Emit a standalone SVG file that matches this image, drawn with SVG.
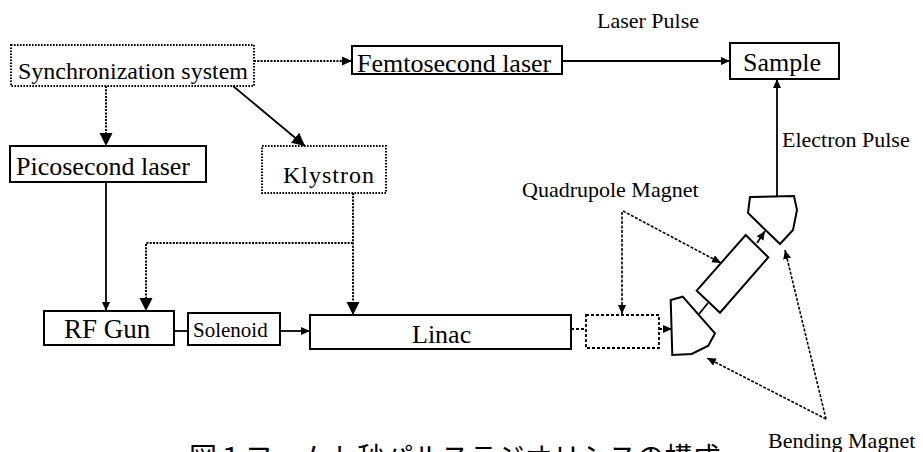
<svg xmlns="http://www.w3.org/2000/svg" width="923" height="452" viewBox="0 0 923 452">
<style>
.box{fill:none;stroke:#000;stroke-width:2}
.dot{fill:none;stroke:#000;stroke-width:2;stroke-dasharray:1.6 1.4}
.dash{fill:none;stroke:#000;stroke-width:1.8;stroke-dasharray:3 2}
.ln{fill:none;stroke:#000;stroke-width:1.8}
.dl{fill:none;stroke:#000;stroke-width:2;stroke-dasharray:2 1.3}
.ds{fill:none;stroke:#000;stroke-width:1.6;stroke-dasharray:3 1.5}
text{font-family:"Liberation Serif","Times New Roman",serif;fill:#000}
.cap{font-family:"Noto Sans CJK JP","Noto Sans",sans-serif;font-size:28px}
</style>
<defs>
<marker id="big" markerUnits="userSpaceOnUse" markerWidth="14" markerHeight="14" refX="13" refY="6.5" orient="auto"><path d="M0,0 L13,6.5 L0,13 z" fill="#000"/></marker>
<marker id="med" markerUnits="userSpaceOnUse" markerWidth="11" markerHeight="10" refX="10" refY="4.5" orient="auto"><path d="M0,0 L10,4.5 L0,9 z" fill="#000"/></marker>
<marker id="sm" markerUnits="userSpaceOnUse" markerWidth="10" markerHeight="9" refX="9" refY="4" orient="auto"><path d="M0,0 L9,4 L0,8 z" fill="#000"/></marker>
</defs>
<rect width="923" height="452" fill="#fff"/>
<g id="connectors">
<path class="dl" d="M254,61 H352" marker-end="url(#med)"/>
<path class="ln" d="M562,61 H730" marker-end="url(#sm)"/>
<path class="dl" d="M106,86 V146" marker-end="url(#big)"/>
<path class="ln" d="M233,86 L305,146" marker-end="url(#big)"/>
<path class="dl" d="M353,193 V315" marker-end="url(#big)"/>
<path class="dl" d="M353,243 H146 V311" marker-end="url(#big)"/>
<path class="ln" d="M106,182 V311" marker-end="url(#sm)"/>
<path class="ln" d="M174,331 H188"/>
<path class="ln" d="M280,331 H310" marker-end="url(#sm)"/>
<path class="dash" d="M571,329 H586"/>
<path class="dash" d="M659,329 H672" marker-end="url(#sm)"/>
<path class="ln" d="M699,314 L708,303"/>
<path class="ln" d="M757,243 L765,231" marker-end="url(#sm)"/>
<path class="ln" d="M777,196 V79" marker-end="url(#sm)"/>
<path class="ds" d="M622,212 V314" marker-end="url(#sm)"/>
<path class="ds" d="M623,211 L721,263" marker-end="url(#sm)"/>
<path class="ds" d="M826,419 L707,358" marker-end="url(#sm)"/>
<path class="ds" d="M826,419 L785,250" marker-end="url(#sm)"/>
</g>
<g id="sync"><rect class="dot" x="11" y="45" width="243" height="41"/><text x="18" y="79" font-size="24">Synchronization system</text></g>
<g id="femto"><rect class="box" x="352" y="46" width="210" height="28"/><text x="357" y="72" font-size="26">Femtosecond  laser</text></g>
<g id="sample"><rect class="box" x="730" y="43" width="109" height="36"/><text x="743" y="71" font-size="26">Sample</text></g>
<g id="pico"><rect class="box" x="10" y="146" width="196" height="36"/><text x="16" y="175" font-size="26">Picosecond laser</text></g>
<g id="klystron"><rect class="dot" x="262" y="146" width="124" height="47"/><text x="283" y="183" font-size="24" letter-spacing="1">Klystron</text></g>
<g id="rfgun"><rect class="box" x="44" y="311" width="130" height="34"/><text x="64" y="338" font-size="27">RF Gun</text></g>
<g id="solenoid"><rect class="box" x="188" y="313" width="92" height="32"/><text x="193" y="337" font-size="21">Solenoid</text></g>
<g id="linac"><rect class="box" x="310" y="315" width="261" height="34"/><text x="412" y="343" font-size="26">Linac</text></g>
<g id="quad1"><rect class="dash" x="586" y="315" width="73" height="33"/></g>
<g id="bend1"><polygon class="box" points="670.7,300 682.7,296.7 715,333.3 708.3,345.7 691.7,354 672.3,355"/></g>
<g id="quad2"><polygon class="box" points="696.7,290.7 745.7,235 768.3,257.3 720,312.7"/></g>
<g id="bend2"><polygon class="box" points="750,197 794,196 797,210 793,230 780,244 748,213"/></g>
<g id="labels">
<text x="597" y="28" font-size="22">Laser Pulse</text>
<text x="782" y="147" font-size="22">Electron Pulse</text>
<text x="522" y="197" font-size="22">Quadrupole Magnet</text>
<text x="768" y="448" font-size="22">Bending Magnet</text>
<text class="cap" x="189" y="468">図１フェムト秒パルスラジオリシスの構成</text>
</g>
</svg>
